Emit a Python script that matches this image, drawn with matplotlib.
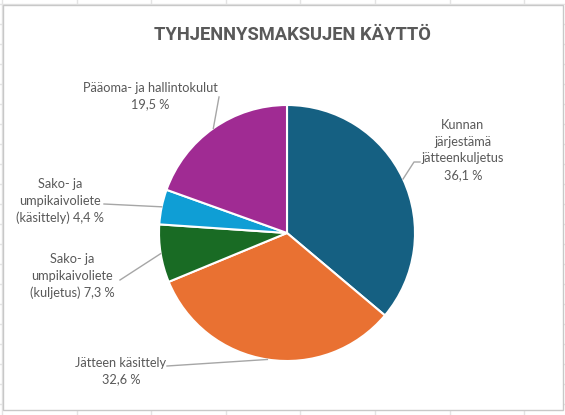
import numpy as np
import matplotlib
matplotlib.use("Agg")
import matplotlib.pyplot as plt
from matplotlib.patches import Rectangle

plt.rcParams['font.family'] = ['Lato', 'DejaVu Sans']

title = 'TYHJENNYSMAKSUJEN KÄYTTÖ'
categories = ['Kunnan\njärjestämä\njätteenkuljetus',
              'Jätteen käsittely',
              'Sako- ja\numpikaivoliete\n(kuljetus)',
              'Sako- ja\numpikaivoliete\n(käsittely)',
              'Pääoma- ja hallintokulut']
shares = [36.1, 32.6, 7.3, 4.4, 19.5]
colors = ['#156082', '#E97132', '#196B24', '#0F9ED5', '#A02B93']

W, H = 565, 415
fig = plt.figure(figsize=(W / 100, H / 100), dpi=100)
ax = fig.add_axes([0, 0, 1, 1])

cx, cy, r = 287, 233, 128
wedges, _ = ax.pie(shares, center=(cx, H - cy), radius=r, startangle=90,
                   counterclock=False, colors=colors,
                   wedgeprops=dict(edgecolor='white', linewidth=1.5))
ax.set_xlim(0, W)
ax.set_ylim(0, H)
ax.set_aspect('auto')
ax.axis('off')

# spreadsheet gridlines peeking around the chart frame
for gx in np.arange(2, W, 74.6):
    ax.plot([gx, gx], [0, H], color='#E4E4E4', linewidth=1, zorder=-3)
for gy in np.arange(H - 4, 0, -20):
    ax.plot([0, W], [gy, gy], color='#E4E4E4', linewidth=1, zorder=-3)
ax.add_patch(Rectangle((3, H - 410), 560, 405, facecolor='white',
                       edgecolor='#C8C8C8', linewidth=1, zorder=-2))

def fmt(v):
    return f'{v:.1f}'.replace('.', ',') + ' %'

labels = [f'{categories[0]}\n{fmt(shares[0])}',
          f'{categories[1]}\n{fmt(shares[1])}',
          f'{categories[2]} {fmt(shares[2])}',
          f'{categories[3]} {fmt(shares[3])}',
          f'{categories[4]}\n{fmt(shares[4])}']

# label centre (px) and leader elbow points (px)
label_pos = [(463, 150), (121, 371), (72, 276), (60, 201), (150, 96)]
elbows = [[(420, 162), (414, 162)],
          [(167, 366)],
          [(120, 280)],
          [(104, 204)],
          [(219, 97)]]

tc = '#595959'
for w, lab, (lx, ly), elb in zip(wedges, labels, label_pos, elbows):
    mid = np.deg2rad((w.theta1 + w.theta2) / 2)
    px = cx + r * np.cos(mid)
    py = cy - r * np.sin(mid)
    pts = elb + [(px, py)]
    ax.plot([p[0] for p in pts], [H - p[1] for p in pts], color='#A6A6A6',
            linewidth=1, zorder=1)
    ax.text(lx, H - ly, lab, ha='center', va='center', fontsize=9.2,
            color=tc, linespacing=1.45)

ax.text(292, H - 35, title, ha='center', va='center', fontsize=13.2,
        fontweight='bold', color=tc, family=['Roboto', 'DejaVu Sans'])

fig.savefig('out.png', dpi=100)
